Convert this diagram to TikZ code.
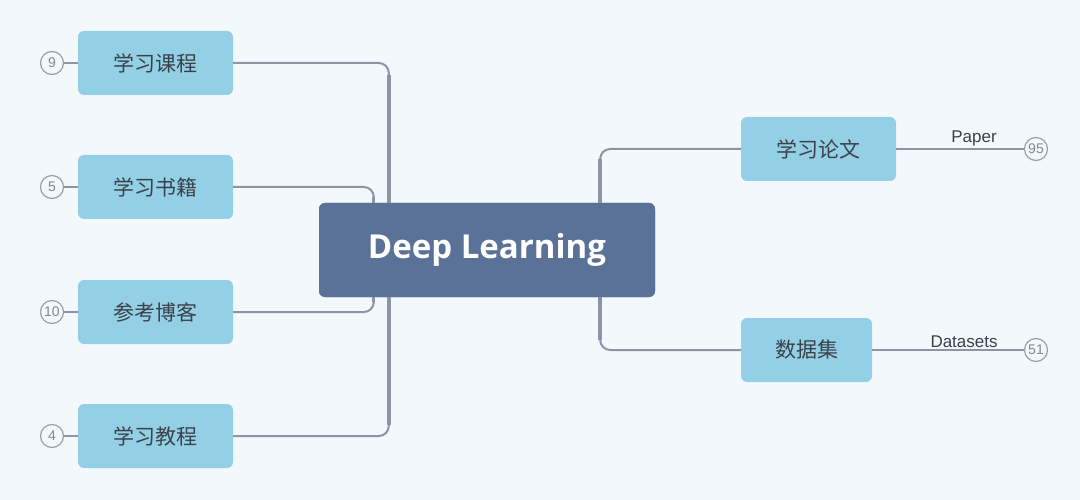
\documentclass[tikz,border=0pt]{standalone}
\usepackage{fontspec}
\setmainfont{Liberation Sans}
\newfontfamily\cjk{Noto Sans CJK SC}
\newfontfamily\titlefont{Open Sans}
\usetikzlibrary{calc}
\definecolor{bg}{HTML}{F3F8FC}
\definecolor{central}{HTML}{5A7298}
\definecolor{topic}{HTML}{94D0E5}
\definecolor{tcolor}{HTML}{3A414B}
\definecolor{lcolor}{HTML}{8C95A5}
\definecolor{ccolor}{HTML}{9AA0A8}
\tikzset{
  centralbox/.style={fill=central, rounded corners=6pt, minimum width=336pt, minimum height=94pt, text=white, font=\titlefont\bfseries\fontsize{33}{33}\selectfont},
  topicbox/.style={fill=topic, rounded corners=6pt, minimum height=64pt, text=tcolor, font=\cjk\fontsize{21}{21}\selectfont, inner sep=0pt},
  countcirc/.style={circle, draw=ccolor, line width=1.2pt, minimum size=23pt, inner sep=0pt, text=ccolor!85!black, font=\fontsize{14}{14}\selectfont},
  conn/.style={draw=lcolor, line width=2pt, rounded corners=10pt},
  thick conn/.style={draw=lcolor, line width=4pt},
  mid conn/.style={draw=lcolor, line width=3pt},
  thin conn/.style={draw=lcolor, line width=1.5pt},
  lbl/.style={text=tcolor, font=\fontsize{17}{17}\selectfont, inner sep=2pt}
}
\begin{document}
\begin{tikzpicture}[x=1pt,y=-1pt]
\fill[bg] (0,0) rectangle (1080,500);
\useasboundingbox (0,0) rectangle (1080,500);

\node[centralbox] (c) at (487,250) {Deep Learning};

\node[topicbox, minimum width=155pt] (l1) at (155.5,63) {学习课程};
\node[topicbox, minimum width=155pt] (l2) at (155.5,187) {学习书籍};
\node[topicbox, minimum width=155pt] (l3) at (155.5,312) {参考博客};
\node[topicbox, minimum width=155pt] (l4) at (155.5,436) {学习教程};

\node[topicbox, minimum width=155pt] (r1) at (818.5,149) {学习论文};
\node[topicbox, minimum width=131pt] (r2) at (806.5,350) {数据集};

\node[countcirc] (k1) at (52,63) {9};
\node[countcirc] (k2) at (52,187) {5};
\node[countcirc] (k3) at (52,312) {10};
\node[countcirc] (k4) at (52,436) {4};
\node[countcirc] (k5) at (1036,149) {95};
\node[countcirc] (k6) at (1036,350) {51};

% coordinates for branch verticals
\coordinate (vL1) at ($(c.north west)+(70,0)$);
\coordinate (vL2) at ($(c.north west)+(55,0)$);
\coordinate (vL3) at ($(c.south west)+(55,0)$);
\coordinate (vL4) at ($(c.south west)+(70,0)$);
\coordinate (vR1) at ($(c.north east)+(-55,0)$);
\coordinate (vR2) at ($(c.south east)+(-55,0)$);

% left connectors
\draw[conn] (l1.east) -| (vL1);
\draw[thick conn] (vL1) -- ($(vL1)+(0,-128)$);
\draw[conn] (l4.east) -| (vL4);
\draw[thick conn] (vL4) -- ($(vL4)+(0,128)$);
\draw[conn] (l2.east) -| (vL2);
\draw[mid conn] (vL2) -- ($(vL2)+(0,-6)$);
\draw[conn] (l3.east) -| (vL3);
\draw[mid conn] (vL3) -- ($(vL3)+(0,5)$);

% right connectors
\draw[conn] (vR1) |- (r1.west);
\draw[thick conn] (vR1) -- ($(vR1)+(0,-44)$);
\draw[conn] (vR2) |- (r2.west);
\draw[thick conn] (vR2) -- ($(vR2)+(0,43)$);

% count connectors
\draw[thin conn] (k1.east) -- (l1.west);
\draw[thin conn] (k2.east) -- (l2.west);
\draw[thin conn] (k3.east) -- (l3.west);
\draw[thin conn] (k4.east) -- (l4.west);
\draw[thin conn] (r1.east) -- node[lbl, above, xshift=14pt] {Paper} (k5.west);
\draw[thin conn] (r2.east) -- node[lbl, above, xshift=16pt] {Datasets} (k6.west);

\node[centralbox] at (c) {Deep Learning};
\end{tikzpicture}
\end{document}
